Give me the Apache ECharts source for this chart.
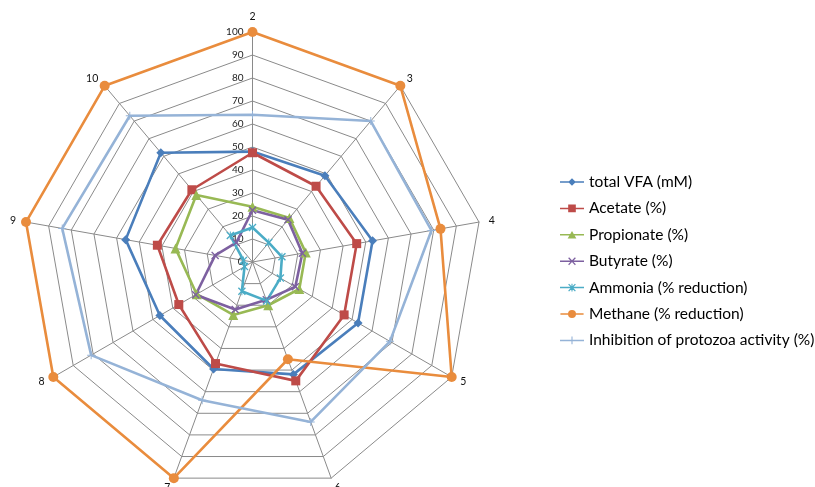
<!DOCTYPE html>
<html>
<head>
<meta charset="utf-8">
<script src="https://cdn.jsdelivr.net/npm/echarts@6/dist/echarts.min.js"></script>
<style>html,body{margin:0;padding:0;background:#fff;}#c{width:815px;height:487px;}</style>
</head>
<body>
<div id="c"></div>
<script>
// Categories in clockwise order starting from top
var categories = ['2', '3', '4', '5', '6', '7', '8', '9', '10'];
var totalVFA   = [48, 49, 53, 53, 52, 49.5, 46.5, 56, 62];
var acetate    = [47.5, 43, 46, 46, 55, 47, 37, 42, 41];
var propionate = [24, 25, 23.5, 23.5, 20, 24.5, 28, 34, 38];
var butyrate   = [22.5, 24, 22, 21.5, 17.5, 22, 28.5, 16.5, 11];
var ammonia    = [15, 11, 13, 14, 18, 13.5, 4, 4, 15];
var methane    = [100, 100, 83, 100, 45, 100, 100, 100, 100];
var protozoa   = [64, 80, 79, 69, 74, 64, 81, 84, 83];
var seriesNames = ['total VFA (mM)', 'Acetate (%)', 'Propionate (%)', 'Butyrate (%)',
  'Ammonia (% reduction)', 'Methane (% reduction)', 'Inhibition of protozoa activity (%)'];
var tickLabels = ['0','10','20','30','40','50','60','70','80','90','100'];

// ECharts radar runs counter-clockwise; reorder so the picture reads clockwise
function ccw(arr) { return [arr[0]].concat(arr.slice(1).reverse()); }

var colors = ['#4A7EBB', '#BE4B48', '#98B954', '#7D60A0', '#4BACC6', '#E98C3D', '#95B3D7'];
var X_PATH = 'path://M0,1.2L1.2,0L5,3.8L8.8,0L10,1.2L6.2,5L10,8.8L8.8,10L5,6.2L1.2,10L0,8.8L3.8,5Z';
var AST_PATH = 'path://M0,1.2L1.2,0L5,3.8L8.8,0L10,1.2L6.2,5L10,8.8L8.8,10L5,6.2L1.2,10L0,8.8L3.8,5Z M4.4,0L5.6,0L5.6,10L4.4,10Z';
var PLUS_PATH = 'path://M4.4,0H5.6V4.4H10V5.6H5.6V10H4.4V5.6H0V4.4H4.4Z';
var symbols = ['diamond', 'rect', 'triangle', X_PATH, AST_PATH, 'circle', PLUS_PATH];
var symbolSizes = [9, 9, 10, 8, 8, 10, 8];

// Legend icons: line with marker
var LINE = 'M0,3.3H22V4.7H0Z ';
var legendIcons = [
  'path://' + LINE + 'M11,0.5L14.5,4L11,7.5L7.5,4Z',
  'path://' + LINE + 'M7.5,0.5H14.5V7.5H7.5Z',
  'path://' + LINE + 'M11,0.5L15,7.5H7Z',
  'path://' + LINE + 'M7.5,1.2L8.3,0.4L11,3.2L13.7,0.4L14.5,1.2L11.8,4L14.5,6.8L13.7,7.6L11,4.8L8.3,7.6L7.5,6.8L10.2,4Z',
  'path://' + LINE + 'M7.5,1.2L8.3,0.4L11,3.2L13.7,0.4L14.5,1.2L11.8,4L14.5,6.8L13.7,7.6L11,4.8L8.3,7.6L7.5,6.8L10.2,4Z M10.5,0.4H11.5V7.6H10.5Z',
  'path://' + LINE + 'M14.8,4A3.8,3.8 0 1 1 7.2,4A3.8,3.8 0 1 1 14.8,4Z',
  'path://' + LINE + 'M10.5,0.5H11.5V7.5H10.5Z'
];

var allValues = [totalVFA, acetate, propionate, butyrate, ammonia, methane, protozoa];

var indicator = ccw(categories).map(function (c, i) {
  var o = { name: c, min: 0, max: 100 };
  if (i === 0) {
    o.axisLabel = {
      show: true, fontSize: 10, color: '#222', fontFamily: 'Lato', margin: 9,
      formatter: function (v) { return tickLabels[Math.round(v / 10)] || ''; }
    };
  }
  return o;
});

var data = allValues.map(function (vals, i) {
  return {
    name: seriesNames[i],
    value: ccw(vals),
    symbol: symbols[i],
    symbolSize: symbolSizes[i],
    lineStyle: { color: colors[i], width: 2.6 },
    itemStyle: { color: colors[i], borderWidth: 0 }
  };
});

var chart = echarts.init(document.getElementById('c'), null, { renderer: 'canvas' });
chart.setOption({
  animation: false,
  color: colors,
  legend: {
    orient: 'vertical',
    left: 555,
    top: 169,
    itemWidth: 24,
    itemHeight: 8,
    itemGap: 10.4,
    data: seriesNames.map(function (n, i) { return { name: n, icon: legendIcons[i] }; }),
    itemStyle: { borderWidth: 0 },
    textStyle: { fontFamily: 'Lato', fontSize: 15.5, color: '#000', lineHeight: 16, padding: [0, 0, 0, 0] },
    selectedMode: false
  },
  radar: {
    center: [252.5, 262],
    radius: 230,
    startAngle: 90,
    shape: 'polygon',
    splitNumber: 10,
    indicator: indicator,
    axisName: { color: '#111', fontSize: 10.5, fontFamily: 'Lato' },
    nameGap: 10,
    axisLine: { lineStyle: { color: '#8a8a8a', width: 1 } },
    splitLine: { lineStyle: { color: '#8a8a8a', width: 1 } },
    splitArea: { show: false },
    axisTick: { show: false },
    axisLabel: { show: false }
  },
  series: [{
    type: 'radar',
    data: data
  }]
});
</script>
</body>
</html>
